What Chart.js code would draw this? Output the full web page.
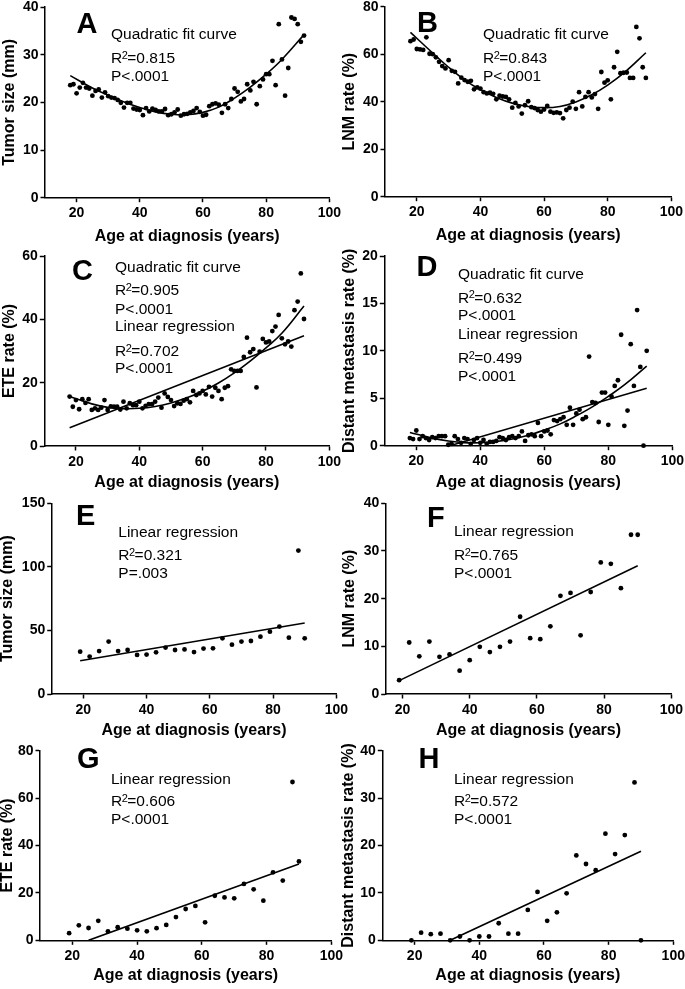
<!DOCTYPE html>
<html>
<head>
<meta charset="utf-8">
<script src="https://cdn.jsdelivr.net/npm/chart.js@4.4.1/dist/chart.umd.min.js"></script>
<style>
  body { margin: 0; background: #fff; width: 685px; height: 989px; overflow: hidden; position: relative; }
  canvas { position: absolute; }
</style>
</head>
<body>
<script>
// ages 18-92, one point per year (panels A-D)
const ageYearly = [18,19,20,21,22,23,24,25,26,27,28,29,30,31,32,33,34,35,36,37,38,39,40,41,42,43,44,45,46,47,48,49,50,51,52,53,54,55,56,57,58,59,60,61,62,63,64,65,66,67,68,69,70,71,72,73,74,75,76,77,78,79,80,81,82,83,84,85,86,87,88,89,90,91,92];
// ages grouped (panels E-H)
const ageGroup = [19,22,25,28,31,34,37,40,43,46,49,52,55,58,61,64,67,70,73,76,79,82,85,88,90];

const tumorSizeA = [23.6,23.8,21.9,23.1,24.1,23.1,22.9,21.4,22.4,22.7,21.0,22.1,21.3,21.0,20.9,20.5,19.9,18.9,19.9,19.9,18.7,18.5,18.4,17.3,18.8,18.1,18.7,18.4,18.1,18.1,18.6,17.3,17.5,17.9,18.5,17.2,17.5,17.6,17.9,18.2,18.8,18.0,17.2,17.4,19.2,19.6,19.8,19.5,17.8,19.6,18.8,20.7,22.9,22.2,20.2,20.7,23.8,22.5,24.3,19.6,23.4,24.8,25.9,25.9,28.7,23.6,36.4,29.0,21.4,27.2,37.8,37.5,36.4,32.7,34.0];
const lnmRateB = [65.5,66.2,62.2,62.0,61.8,67.1,60.2,60.0,58.7,56.8,55.0,54.0,57.5,53.0,52.6,47.7,50.1,49.1,48.4,48.8,45.2,46.0,45.5,44.0,43.5,43.8,43.3,41.0,42.5,42.2,42.0,41.0,37.5,39.5,38.0,35.0,38.5,40.2,37.7,37.3,36.5,35.8,36.7,38.2,35.8,35.3,35.5,35.2,33.0,36.5,37.5,40.0,37.0,44.0,38.0,42.0,44.0,41.8,43.2,37.0,52.5,48.0,49.0,41.0,54.5,61.0,52.0,52.2,52.3,50.0,50.0,71.5,66.7,54.5,50.0];
const eteRateC = [15.6,12.4,14.5,11.6,14.8,13.6,14.8,11.4,11.9,11.4,12.1,14.5,11.4,12.5,12.4,12.4,11.5,14.0,11.9,13.5,12.9,12.9,14.0,11.9,12.7,13.2,13.2,14.0,15.3,12.1,16.6,15.5,14.5,12.6,13.5,13.3,14.3,14.8,13.8,17.4,16.1,16.6,17.4,16.3,18.7,15.6,18.4,17.4,14.8,18.4,18.9,24.2,23.7,23.7,23.7,28.1,34.2,29.6,30.6,18.5,29.8,33.8,32.7,33.0,36.3,37.7,41.4,34.0,32.1,33.0,31.4,42.9,45.6,54.5,40.1];
const dmRateD = [0.8,0.7,1.6,0.7,1.0,0.8,0.6,0.9,0.8,1.0,1.0,1.0,0.1,0.2,1.0,0.7,0.3,0.8,0.7,0.2,0.6,0.8,0.3,0.6,0.2,0.4,0.4,0.5,0.9,0.8,0.6,0.9,1.0,0.8,1.0,1.5,0.5,1.1,1.2,1.0,2.4,1.0,1.5,1.6,1.2,2.7,2.6,2.8,3.0,2.2,4.0,2.2,3.4,3.8,2.8,3.0,9.4,4.6,4.5,2.5,5.6,5.6,2.2,5.2,6.3,6.9,11.7,2.1,3.7,10.7,6.3,14.3,8.3,0,10.0];

const tumorSizeE = [33.3,29.4,33.8,41.2,33.8,34.6,30.7,31.0,32.8,36.5,34.6,35.1,33.0,35.7,35.9,43.8,38.8,41.2,41.7,45.1,49.0,53.0,44.3,112.8,43.8];
const lnmRateF = [2.9,10.8,7.9,11.0,7.8,8.3,4.9,7.1,9.9,8.8,9.9,11.0,16.2,11.7,11.5,14.2,20.6,21.2,12.3,21.4,27.6,27.3,22.2,33.4,33.4];
const eteRateG = [3.0,6.3,5.2,8.2,3.8,5.5,4.9,4.2,3.8,5.1,6.5,9.8,13.2,14.5,7.6,18.8,18.1,17.7,23.8,21.5,16.7,28.7,25.2,66.8,33.3];
const dmRateH = [0,1.6,1.3,1.4,0,0.8,0,0.8,0.8,3.6,1.4,1.4,6.4,10.2,4.1,5.9,9.9,17.9,16.1,14.8,22.5,18.2,22.2,33.3,0];

// quadratic fit curves
const fitAges = [18,25,30,35,40,45,50,55,60,65,70,75,80,85,92];
const fitA = [25.6,23.0,21.5,20.1,18.9,18.0,17.5,17.4,17.9,19.0,20.9,23.2,25.9,29.0,34.2];
const fitB = [69.2,60.5,54.5,49.2,45.0,41.8,39.4,38.0,37.5,38.0,39.9,42.9,47.0,52.0,60.6];
const fitC = [15.6,13.3,12.2,11.8,11.9,12.5,13.6,15.2,17.3,19.9,23.1,26.8,31.0,35.6,44.2];
const fitD = [1.4,0.8,0.5,0.32,0.31,0.44,0.7,1.1,1.65,2.3,3.15,4.1,5.2,6.4,8.4];

// linear regression lines (end points)
const linC = { x: [18, 92], y: [5.8, 34.8] };
const linD = { x: [30.5, 92], y: [0, 6.05] };
const linE = { x: [19, 90], y: [26.2, 55.9] };
const linF = { x: [19, 90], y: [2.8, 26.9] };
const linG = { x: [25, 90], y: [0, 32.2] };
const linH = { x: [31, 90], y: [0, 18.8] };

const xTicks = [20, 40, 60, 80, 100];
const yTicksA = [0, 10, 20, 30, 40];
const yTicksB = [0, 20, 40, 60, 80];
const yTicksC = [0, 20, 40, 60];
const yTicksD = [0, 5, 10, 15, 20];
const yTicksE = [0, 50, 100, 150];
const yTicksF = [0, 10, 20, 30, 40];
const yTicksG = [0, 20, 40, 60, 80];
const yTicksH = [0, 10, 20, 30, 40];

const xTitle = 'Age at diagnosis (years)';
const FONT = '"Liberation Sans", Arial, Helvetica, sans-serif';
Chart.defaults.font.family = FONT;
Chart.defaults.color = '#000';

const pts = (xs, ys) => xs.map((x, i) => ({ x: x, y: ys[i] }));

const panels = [
  { letter: 'A', xs: ageYearly, ys: tumorSizeA, yTicks: yTicksA, yTitle: 'Tumor size (mm)',
    curves: [pts(fitAges, fitA)], lines: [],
    area: [45, 7, 330, 197.7], bottom: 246.6, left: 0, xMin: 10,
    letterPos: [76.5, 32.5], textX: 111,
    texts: [['Quadratic fit curve', 39.3], ['R²=0.815', 63.3], ['P<.0001', 80.7]] },
  { letter: 'B', xs: ageYearly, ys: lnmRateB, yTicks: yTicksB, yTitle: 'LNM rate (%)',
    curves: [pts(fitAges, fitB)], lines: [],
    area: [385, 6.7, 672, 196.7], bottom: 245.6, left: 340, xMin: 10,
    letterPos: [417, 32], textX: 483,
    texts: [['Quadratic fit curve', 39.3], ['R²=0.843', 63.3], ['P<.0001', 81]] },
  { letter: 'C', xs: ageYearly, ys: eteRateC, yTicks: yTicksC, yTitle: 'ETE rate (%)',
    curves: [pts(fitAges, fitC)], lines: [pts(linC.x, linC.y)],
    area: [44.3, 256, 330, 446], bottom: 492, left: 0, xMin: 10,
    letterPos: [72, 279.5], textX: 115,
    texts: [['Quadratic fit curve', 271.7], ['R²=0.905', 295], ['P<.0001', 313.8],
            ['Linear regression', 331.3], ['R²=0.702', 356], ['P<.0001', 372.5]] },
  { letter: 'D', xs: ageYearly, ys: dmRateD, yTicks: yTicksD, yTitle: 'Distant metastasis rate (%)',
    curves: [pts(fitAges, fitD)], lines: [pts(linD.x, linD.y)],
    area: [384.3, 256, 673, 445.7], bottom: 492, left: 340, xMin: 10,
    letterPos: [416.5, 275.5], textX: 458,
    texts: [['Quadratic fit curve', 279], ['R²=0.632', 302.5], ['P<.0001', 320],
            ['Linear regression', 339.2], ['R²=0.499', 363], ['P<.0001', 381.2]] },
  { letter: 'E', xs: ageGroup, ys: tumorSizeE, yTicks: yTicksE, yTitle: 'Tumor size (mm)',
    curves: [], lines: [pts(linE.x, linE.y)],
    area: [51.7, 503.3, 336.7, 694], bottom: 740.6, left: -2, xMin: 10,
    letterPos: [76, 525], textX: 118.3,
    texts: [['Linear regression', 536.7], ['R²=0.321', 560], ['P=.003', 578.3]] },
  { letter: 'F', xs: ageGroup, ys: lnmRateF, yTicks: yTicksF, yTitle: 'LNM rate (%)',
    curves: [], lines: [pts(linF.x, linF.y)],
    area: [385.7, 503.3, 671.7, 694], bottom: 740.6, left: 340, xMin: 15,
    letterPos: [427, 526.7], textX: 454,
    texts: [['Linear regression', 535.7], ['R²=0.765', 560], ['P<.0001', 577.7]] },
  { letter: 'G', xs: ageGroup, ys: eteRateG, yTicks: yTicksG, yTitle: 'ETE rate (%)',
    curves: [], lines: [pts(linG.x, linG.y)],
    area: [40, 750.7, 331.7, 940.3], bottom: 985.6, left: -2, xMin: 10,
    letterPos: [77, 767.5], textX: 111,
    texts: [['Linear regression', 784], ['R²=0.606', 806], ['P<.0001', 824.3]] },
  { letter: 'H', xs: ageGroup, ys: dmRateH, yTicks: yTicksH, yTitle: 'Distant metastasis rate (%)',
    curves: [], lines: [pts(linH.x, linH.y)],
    area: [382.3, 750.7, 673.3, 940.3], bottom: 985.6, left: 339, xMin: 10,
    letterPos: [418.5, 767.5], textX: 454,
    texts: [['Linear regression', 784], ['R²=0.572', 806], ['P<.0001', 824.3]] }
];

// panel letter + fit statistics text
const notesPlugin = {
  id: 'notes',
  afterDraw(chart, args, o) {
    const ctx = chart.ctx;
    ctx.save();
    ctx.fillStyle = '#000';
    ctx.textAlign = 'left';
    ctx.textBaseline = 'alphabetic';
    ctx.font = 'bold 29px ' + FONT;
    ctx.fillText(o.letter, o.letterPos[0] - o.ox, o.letterPos[1] - o.oy);
    const base = '15.5px ' + FONT;
    o.texts.forEach(([t, y]) => {
      let x = o.textX - o.ox;
      const yy = y - o.oy;
      const parts = t.split('²');
      ctx.font = base;
      ctx.fillText(parts[0], x, yy);
      if (parts.length > 1) {
        x += ctx.measureText(parts[0]).width - 0.5;
        ctx.font = '11px ' + FONT;
        ctx.fillText('2', x, yy - 4.5);
        x += ctx.measureText('2').width - 0.5;
        ctx.font = base;
        ctx.fillText(parts[1], x, yy);
      }
    });
    ctx.restore();
  }
};

panels.forEach(p => {
  const [L, T, R, B] = p.area;
  const cLeft = p.left;
  const cTop = Math.floor(T - 12);
  const cW = Math.ceil(R + 14 - cLeft);
  const cH = Math.ceil(p.bottom - cTop);
  const cv = document.createElement('canvas');
  cv.width = cW; cv.height = cH;
  cv.style.left = cLeft + 'px'; cv.style.top = cTop + 'px';
  cv.style.width = cW + 'px'; cv.style.height = cH + 'px';
  document.body.appendChild(cv);

  const yW = L - cLeft;
  const xH = p.bottom - B;

  const axisCommon = {
    grid: { display: true, drawOnChartArea: false, drawTicks: true, tickLength: 4.5, tickWidth: 1.5, color: '#000', tickColor: '#000' },
    border: { display: true, color: '#000', width: 1.5 },
    title: { display: true, color: '#000', font: { size: 16, weight: 'bold' }, padding: 0 }
  };

  const datasets = [
    { data: pts(p.xs, p.ys), showLine: false, pointRadius: 2.4, pointBackgroundColor: '#000', pointBorderWidth: 0, clip: false }
  ];
  p.curves.forEach(c => datasets.push({ data: c, showLine: true, pointRadius: 0, borderColor: '#000', borderWidth: 1.6, tension: 0.4, fill: false }));
  p.lines.forEach(l => datasets.push({ data: l, showLine: true, pointRadius: 0, borderColor: '#000', borderWidth: 1.6, tension: 0, fill: false }));

  new Chart(cv, {
    type: 'scatter',
    data: { datasets: datasets },
    options: {
      responsive: false,
      animation: false,
      events: [],
      layout: { padding: { left: 0, top: T - cTop, right: cLeft + cW - R, bottom: cTop + cH - p.bottom } },
      plugins: {
        legend: { display: false },
        tooltip: { enabled: false },
        notes: { letter: p.letter, letterPos: p.letterPos, textX: p.textX, texts: p.texts, ox: cLeft, oy: cTop }
      },
      scales: {
        x: Object.assign({}, axisCommon, {
          type: 'linear', min: p.xMin, max: 100,
          afterBuildTicks: s => { s.ticks = xTicks.map(v => ({ value: v })); },
          afterFit: s => { s.height = xH; },
          ticks: { font: { size: 14, weight: 'bold' }, color: '#000', padding: 3, maxRotation: 0 },
          title: Object.assign({}, axisCommon.title, { text: xTitle })
        }),
        y: Object.assign({}, axisCommon, {
          type: 'linear', min: 0, max: p.yTicks[p.yTicks.length - 1],
          afterBuildTicks: s => { s.ticks = p.yTicks.map(v => ({ value: v })); },
          afterFit: s => { s.width = yW; },
          ticks: { font: { size: 14, weight: 'bold' }, color: '#000', padding: 2 },
          title: Object.assign({}, axisCommon.title, { text: p.yTitle })
        })
      }
    },
    plugins: [notesPlugin]
  });
});
</script>
</body>
</html>
